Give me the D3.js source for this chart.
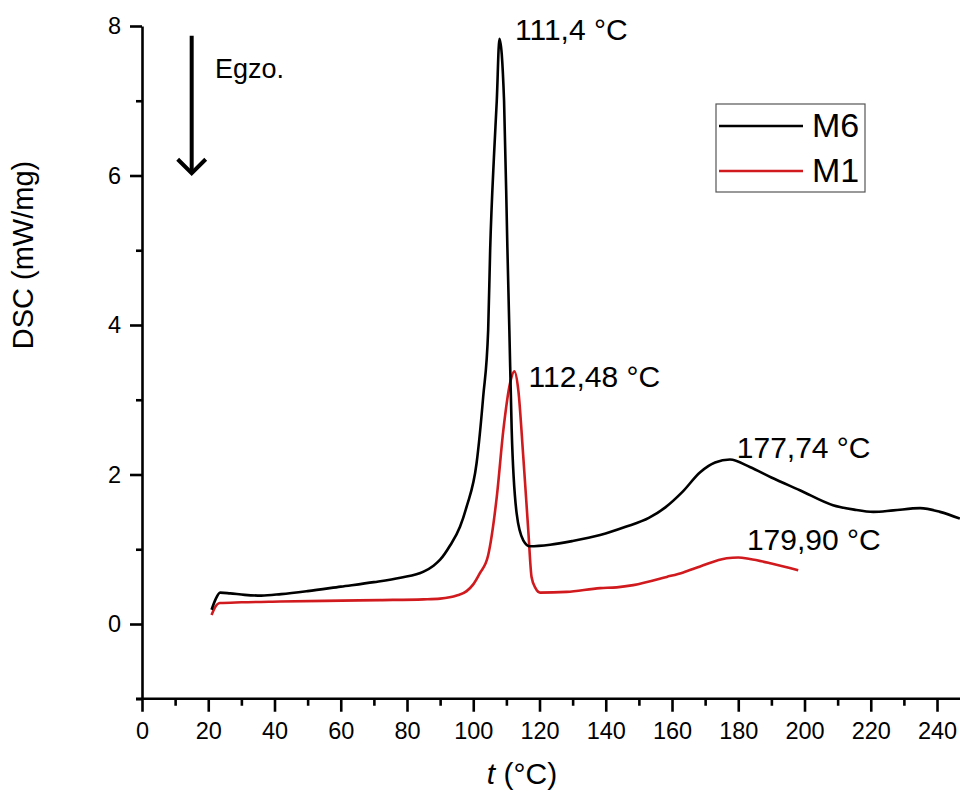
<!DOCTYPE html>
<html>
<head>
<meta charset="utf-8">
<script src="https://cdn.jsdelivr.net/npm/d3@7"></script>
<style>
  html, body { margin: 0; padding: 0; background: #fff; }
  svg { display: block; font-family: "Liberation Sans", Arial, sans-serif; }
</style>
</head>
<body>
<svg id="chart" width="960" height="793"></svg>
<script>
// ---- data ----
const seriesNames = ["M6", "M1"];
const seriesColors = ["#000000", "#d01a1e"];

const m6T = [21.0, 22.2, 23.6, 26.6, 31, 36, 42, 50, 60, 70, 78, 85, 88, 90, 93, 96, 98, 101, 103, 104.5, 105.1, 106.3, 107.1, 107.9, 109.3, 110.3, 110.9, 111.6, 113.1, 115.1, 117.1, 123.2, 130, 138.3, 146, 153, 158, 163, 168.5, 173, 177.5, 183.5, 190, 198.6, 208.6, 215, 220.8, 226.8, 234.9, 240.9, 246.9];
const m6V = [0.19, 0.33, 0.42, 0.41, 0.39, 0.38, 0.40, 0.44, 0.50, 0.56, 0.62, 0.70, 0.78, 0.86, 1.05, 1.30, 1.57, 2.15, 3.04, 3.93, 5.0, 6.3, 7.0, 7.83, 7.0, 5.04, 3.93, 2.6, 1.48, 1.12, 1.04, 1.06, 1.11, 1.19, 1.30, 1.42, 1.56, 1.76, 2.03, 2.16, 2.20, 2.10, 1.96, 1.79, 1.59, 1.53, 1.50, 1.52, 1.55, 1.50, 1.41];

const m1T = [21.0, 22.0, 23.5, 30, 41.7, 55, 71.8, 85, 90, 95, 98, 100, 102, 104.5, 107.1, 109.1, 111.1, 112.4, 113.6, 115.1, 116.6, 117.6, 118.8, 120.2, 128.2, 138.3, 143.3, 148.3, 158.4, 163.4, 168.5, 176.5, 180, 183.5, 190, 198.1];
const m1V = [0.12, 0.22, 0.28, 0.29, 0.30, 0.31, 0.32, 0.33, 0.34, 0.38, 0.44, 0.53, 0.68, 0.92, 1.70, 2.60, 3.22, 3.38, 3.13, 2.24, 1.26, 0.63, 0.48, 0.42, 0.43, 0.48, 0.49, 0.52, 0.63, 0.69, 0.77, 0.88, 0.89, 0.87, 0.81, 0.72];

const peakLabels = ["111,4 °C", "112,48 °C", "177,74 °C", "179,90 °C"];
const peakT = [111.4, 112.48, 177.74, 179.90];
const peakV = [7.75, 3.35, 2.2, 0.88];

const xMajorTicks = [0, 20, 40, 60, 80, 100, 120, 140, 160, 180, 200, 220, 240];
const xMinorTicks = [10, 30, 50, 70, 90, 110, 130, 150, 170, 190, 210, 230];
const yMajorTicks = [0, 2, 4, 6, 8];
const yMinorTicks = [-1, 1, 3, 5, 7];

// ---- chart ----
const svg = d3.select("#chart");
const x = d3.scaleLinear().domain([0, 247]).range([142, 960.2]);
const y = d3.scaleLinear().domain([-1, 8]).range([698.75, 26]);

const axisW = 2.6;
const FONT = "Liberation Sans, Arial, sans-serif";

// X axis
const gx = svg.append("g").attr("transform", `translate(0,${y(-1)})`);
gx.call(d3.axisBottom(x).tickValues(xMajorTicks).tickSize(13).tickSizeOuter(0).tickPadding(11).tickFormat(d3.format("d")));
gx.append("g").call(d3.axisBottom(x).tickValues(xMinorTicks).tickSize(7).tickSizeOuter(0).tickFormat(""))
  .select(".domain").remove();
gx.selectAll("path.domain").attr("stroke", "#000").attr("stroke-width", axisW).attr("d", `M${x(0)-6},0H960`);
gx.selectAll("line").attr("stroke", "#000").attr("stroke-width", axisW);
gx.selectAll("text").attr("font-size", 23.5).attr("fill", "#000").attr("font-family", FONT);

// Y axis
const gy = svg.append("g").attr("transform", `translate(${x(0)},0)`);
gy.call(d3.axisLeft(y).tickValues(yMajorTicks).tickSize(12).tickSizeOuter(0).tickPadding(9).tickFormat(d3.format("d")));
gy.append("g").call(d3.axisLeft(y).tickValues(yMinorTicks).tickSize(6).tickSizeOuter(0).tickFormat(""))
  .select(".domain").remove();
gy.selectAll("path.domain").attr("stroke", "#000").attr("stroke-width", axisW);
gy.selectAll("line").attr("stroke", "#000").attr("stroke-width", axisW);
gy.selectAll("text").attr("font-size", 23.5).attr("fill", "#000").attr("font-family", FONT);

// Axis titles
const xt = svg.append("text").attr("x", 522).attr("y", 784).attr("text-anchor", "middle")
  .attr("font-size", 30).attr("fill", "#000");
xt.append("tspan").attr("font-style", "italic").text("t");
xt.append("tspan").text(" (°C)");

svg.append("text").attr("transform", "translate(33,255) rotate(-90)").attr("text-anchor", "middle")
  .attr("font-size", 29).attr("fill", "#000").text("DSC (mW/mg)");

// Curves
const line = d3.line().x(d => x(d[0])).y(d => y(d[1])).curve(d3.curveMonotoneX);
const curves = [
  { t: m6T, v: m6V },
  { t: m1T, v: m1V }
];
[1, 0].forEach(i => {
  const pts = curves[i].t.map((t, j) => [t, curves[i].v[j]]);
  svg.append("path").attr("d", line(pts)).attr("fill", "none")
    .attr("stroke", seriesColors[i]).attr("stroke-width", 2.6).attr("stroke-linejoin", "round");
});

// Peak labels
const labelDx = [4, 14, 6, 9];
const labelDy = [-5, 13, -2, -8];
peakLabels.forEach((s, i) => {
  svg.append("text")
    .attr("x", x(peakT[i]) + labelDx[i])
    .attr("y", y(peakV[i]) + labelDy[i])
    .attr("font-size", 30).attr("fill", "#000").text(s);
});

// Exo arrow
const ax = x(15);
svg.append("line").attr("x1", ax).attr("y1", y(7.87)).attr("x2", ax).attr("y2", y(6.03))
  .attr("stroke", "#000").attr("stroke-width", 4);
svg.append("path").attr("d", `M${ax-14},${y(6.03)-14}L${ax},${y(6.03)}L${ax+14},${y(6.03)-14}`)
  .attr("fill", "none").attr("stroke", "#000").attr("stroke-width", 4);
svg.append("text").attr("x", x(22.0)).attr("y", y(7.3)).attr("font-size", 27).attr("fill", "#000").text("Egzo.");

// Legend
const lg = svg.append("g");
lg.append("rect").attr("x", 716).attr("y", 104).attr("width", 149).attr("height", 88)
  .attr("fill", "#fff").attr("stroke", "#555").attr("stroke-width", 1.2);
seriesNames.forEach((n, i) => {
  const yy = 126 + i * 45;
  lg.append("line").attr("x1", 719).attr("x2", 803).attr("y1", yy).attr("y2", yy)
    .attr("stroke", seriesColors[i]).attr("stroke-width", 2.6);
  lg.append("text").attr("x", 812).attr("y", yy + 11).attr("font-size", 34).attr("fill", "#000").text(n);
});
</script>
</body>
</html>
